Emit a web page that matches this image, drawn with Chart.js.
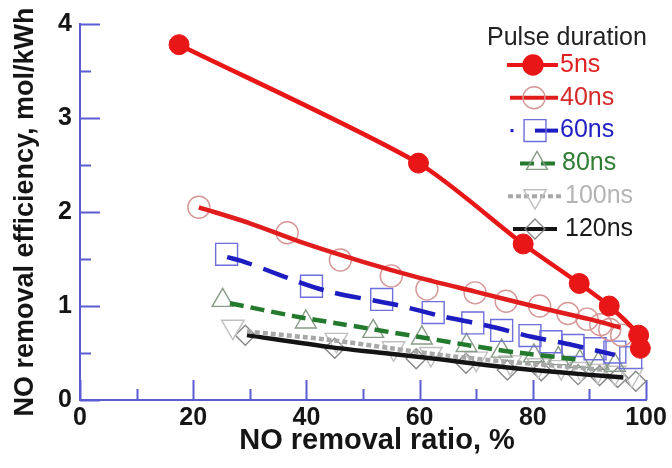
<!DOCTYPE html>
<html>
<head>
<meta charset="utf-8">
<script src="https://cdn.jsdelivr.net/npm/chart.js"></script>
<style>
  html, body { margin: 0; padding: 0; background: #fff; }
  canvas { display: block; }
</style>
</head>
<body>
<canvas id="chart" width="672" height="468"></canvas>
<script>
// values: NO removal ratio (%) -> efficiency (mol/kWh)
const seriesNames = ["5ns", "40ns", "60ns", "80ns", "100ns", "120ns"];

const x5 = [17.5, 59.8, 78.3, 88.2, 93.5, 98.7, 99.0];
const y5 = [3.78, 2.52, 1.66, 1.24, 1.00, 0.69, 0.55];

const x40 = [21, 36.6, 46, 55, 61.3, 69.8, 75.3, 81.2, 86.2, 89.6, 92, 93.6, 95.7];
const y40 = [2.05, 1.78, 1.49, 1.32, 1.18, 1.14, 1.05, 1.0, 0.92, 0.86, 0.80, 0.75, 0.69];
const fitX40 = [21, 30, 40, 50, 60, 70, 80, 90, 95.5];
const fitY40 = [2.05, 1.88, 1.66, 1.47, 1.30, 1.15, 1.00, 0.86, 0.77];

const x60 = [25.9, 40.9, 53.3, 62.4, 69.4, 74.5, 79.5, 83.2, 87.1, 91, 94.5, 97.3];
const y60 = [1.55, 1.21, 1.07, 0.93, 0.82, 0.74, 0.685, 0.62, 0.58, 0.545, 0.51, 0.45];
const fitX60 = [26, 29, 43, 56, 64, 72, 80, 87, 94.5];
const fitY60 = [1.52, 1.47, 1.17, 1.01, 0.89, 0.79, 0.67, 0.585, 0.48];

const x80 = [25.2, 39.9, 51.8, 60.4, 68.3, 74.5, 80.2, 84.5, 88.3, 91.6, 94.5];
const y80 = [1.06, 0.83, 0.73, 0.66, 0.58, 0.52, 0.47, 0.44, 0.41, 0.39, 0.37];
const fitX80 = [26.5, 38, 45, 60, 73, 78, 88];
const fitY80 = [1.03, 0.89, 0.82, 0.67, 0.54, 0.50, 0.43];

const x100 = [27, 45.3, 55.4, 62, 70, 76, 81, 85, 88.5, 91.5, 94.5, 97.5];
const y100 = [0.78, 0.64, 0.55, 0.49, 0.44, 0.40, 0.37, 0.35, 0.33, 0.31, 0.29, 0.27];
const fitX100 = [29.5, 44, 55, 65, 75, 85, 93];
const fitY100 = [0.73, 0.64, 0.55, 0.47, 0.41, 0.36, 0.32];

const x120 = [29.2, 45, 59.4, 68.2, 75.5, 81.5, 88, 91.8, 95, 98.2];
const y120 = [0.69, 0.55, 0.44, 0.39, 0.32, 0.31, 0.27, 0.26, 0.24, 0.20];
const fitX120 = [29.5, 44.5, 53.6, 64, 72, 80, 89.5, 96];
const fitY120 = [0.69, 0.56, 0.50, 0.43, 0.37, 0.32, 0.27, 0.24];

const xTickValues = [0, 20, 40, 60, 80, 100];
const xMinorTicks = [10, 30, 50, 70, 90];
const yTickValues = [0, 1, 2, 3, 4];
const yMinorTicks = [0.5, 1.5, 2.5, 3.5];

const xTitle = "NO removal ratio, %";
const yTitle = "NO removal efficiency, mol/kWh";

function pts(xs, ys) {
    return xs.map((x, i) => ({ x: x, y: ys[i] }));
}

const axisBlue = "rgb(92,92,210)";
const font = '"Liberation Sans", Arial, sans-serif';

// one style per series: line colour, dash, marker
const styles = [
    { line: "#e81616", dash: [], marker: "circle", r: 10, edge: "#e81616", fill: "#e81616", text: "#e02020" },
    { line: "#e01c1c", dash: [], marker: "circle", r: 11, edge: "rgb(214,150,150)", fill: "transparent", text: "#d42a2a" },
    { line: "#1c1cc0", dash: [26, 12], marker: "rect", r: 15.5, edge: "rgb(110,110,220)", fill: "transparent", text: "#2222c4" },
    { line: "#237a2c", dash: [14, 7], marker: "triangle", r: 12, edge: "rgb(135,155,135)", fill: "transparent", text: "#2d7d32" },
    { line: "#a8a8a8", dash: [5, 3], marker: "triangle", rot: 180, r: 13, edge: "rgb(192,192,192)", fill: "transparent", text: "#b4b4b4" },
    { line: "#141414", dash: [], marker: "rectRot", r: 10, edge: "rgb(135,135,135)", fill: "transparent", text: "#1a1a1a" }
];

const markerData = [pts(x5, y5), pts(x40, y40), pts(x60, y60), pts(x80, y80), pts(x100, y100), pts(x120, y120)];
const fitData = [null, pts(fitX40, fitY40), pts(fitX60, fitY60), pts(fitX80, fitY80), pts(fitX100, fitY100), pts(fitX120, fitY120)];

const datasets = [];
seriesNames.forEach((name, i) => {
    const s = styles[i];
    if (i === 0) {
        // 5ns: filled markers joined by the curve
        datasets.push({
            label: name, data: markerData[i], showLine: true, tension: 0.25,
            borderColor: s.line, borderWidth: 4.5, backgroundColor: s.fill,
            pointStyle: "circle", pointRadius: s.r, pointBackgroundColor: s.fill,
            pointBorderColor: s.fill, pointBorderWidth: 1, clip: false, order: 0
        });
        return;
    }
    datasets.push({
        label: name + " fit", data: fitData[i], showLine: true, tension: 0.3,
        borderColor: s.line, borderWidth: 4.5, borderDash: s.dash,
        pointRadius: 0, clip: false, order: 1
    });
    datasets.push({
        label: name, data: markerData[i], showLine: false,
        pointStyle: s.marker, pointRotation: s.rot || 0, pointRadius: s.r,
        pointBorderColor: s.edge, pointBackgroundColor: "rgba(0,0,0,0)",
        pointBorderWidth: 1.4, clip: false, order: 2
    });
});

function drawMarker(ctx, style, x, y, r, rot) {
    ctx.beginPath();
    if (style === "circle") {
        ctx.arc(x, y, r, 0, Math.PI * 2);
    } else if (style === "rect") {
        const s = r * Math.SQRT1_2;
        ctx.rect(x - s, y - s, 2 * s, 2 * s);
    } else if (style === "triangle") {
        const d = rot ? -1 : 1;
        ctx.moveTo(x, y - d * r);
        ctx.lineTo(x + r * 0.866, y + d * r / 2);
        ctx.lineTo(x - r * 0.866, y + d * r / 2);
        ctx.closePath();
    } else if (style === "rectRot") {
        ctx.moveTo(x, y - r);
        ctx.lineTo(x + r, y);
        ctx.lineTo(x, y + r);
        ctx.lineTo(x - r, y);
        ctx.closePath();
    }
}

// tick marks point into the plot, x title sits a bit right of centre
const inwardTicks = {
    id: "inwardTicks",
    beforeDatasetsDraw(chart) {
        const ctx = chart.ctx;
        const xs = chart.scales.x, ys = chart.scales.y;
        const area = chart.chartArea;
        ctx.save();
        ctx.strokeStyle = axisBlue;
        ctx.lineWidth = 2;
        ctx.beginPath();
        xTickValues.concat(xMinorTicks).forEach(v => {
            const len = xMinorTicks.includes(v) ? 11 : 20;
            const px = Math.round(xs.getPixelForValue(v)) + 0.5;
            ctx.moveTo(px, area.bottom);
            ctx.lineTo(px, area.bottom - len);
        });
        yTickValues.concat(yMinorTicks).forEach(v => {
            const len = yMinorTicks.includes(v) ? 11 : 20;
            const py = Math.round(ys.getPixelForValue(v)) + 0.5;
            ctx.moveTo(area.left, py);
            ctx.lineTo(area.left + len, py);
        });
        ctx.stroke();

        ctx.fillStyle = "#151515";
        ctx.font = "bold 29px " + font;
        ctx.textAlign = "center";
        ctx.textBaseline = "middle";
        ctx.fillText(xTitle, (area.left + area.right) / 2 + 14, 441);
        ctx.restore();
    }
};

// legend with title, sample line + marker, coloured labels
const legendRows = [
    { x0: 507, x1: 558, mx: 533, tx: 560 },
    { x0: 510, x1: 558, mx: 534, tx: 560 },
    { x0: 535, x1: 558, mx: 535, tx: 560, dot: 512 },
    { x0: 520, x1: 555, mx: 537, tx: 562 },
    { x0: 508, x1: 563, mx: 535, tx: 565 },
    { x0: 513, x1: 557, mx: 535, tx: 565 }
];

const pulseLegend = {
    id: "pulseLegend",
    afterDatasetsDraw(chart) {
        const ctx = chart.ctx;
        ctx.save();
        ctx.textAlign = "left";
        ctx.textBaseline = "middle";
        ctx.font = "25px " + font;
        ctx.fillStyle = "#222";
        ctx.fillText("Pulse duration", 487, 38);
        seriesNames.forEach((name, i) => {
            const s = styles[i], row = legendRows[i];
            const y = 65 + i * 32.8;
            ctx.strokeStyle = s.line;
            ctx.lineWidth = 4;
            ctx.setLineDash(i === 2 ? [] : s.dash);
            ctx.beginPath();
            ctx.moveTo(row.x0, y);
            ctx.lineTo(row.x1, y);
            ctx.stroke();
            ctx.setLineDash([]);
            if (row.dot) {
                ctx.fillStyle = s.line;
                ctx.fillRect(row.dot - 1.5, y - 1.5, 3, 3);
            }
            drawMarker(ctx, s.marker, row.mx, y, s.r, s.rot);
            ctx.lineWidth = 1.4;
            ctx.strokeStyle = s.edge;
            if (s.fill !== "transparent") {
                ctx.fillStyle = s.fill;
                ctx.fill();
            }
            ctx.stroke();
            ctx.fillStyle = s.text;
            ctx.fillText(name, row.tx, y);
        });
        ctx.restore();
    }
};

new Chart(document.getElementById("chart").getContext("2d"), {
    type: "scatter",
    data: { datasets: datasets },
    options: {
        responsive: false,
        animation: false,
        devicePixelRatio: 1,
        layout: { padding: { top: 24, right: 26, left: 0, bottom: 0 } },
        plugins: {
            legend: { display: false },
            tooltip: { enabled: false }
        },
        scales: {
            x: {
                type: "linear", min: 0, max: 100,
                afterFit(scale) { scale.height = 68; },
                afterBuildTicks(scale) { scale.ticks = xTickValues.map(v => ({ value: v })); },
                grid: { display: true, drawOnChartArea: false, drawTicks: false },
                border: { display: true, color: axisBlue, width: 2 },
                ticks: { padding: 3, color: "#151515", font: { family: font, size: 25, weight: "bold" } },
                title: { display: false }
            },
            y: {
                type: "linear", min: 0, max: 4,
                afterFit(scale) { scale.width = 80; },
                afterBuildTicks(scale) { scale.ticks = yTickValues.map(v => ({ value: v })); },
                grid: { display: true, drawOnChartArea: false, drawTicks: false },
                border: { display: true, color: axisBlue, width: 2 },
                ticks: { padding: 8, color: "#151515", font: { family: font, size: 25, weight: "bold" } },
                title: {
                    display: true, text: yTitle, color: "#151515",
                    padding: { top: 9, bottom: 0 },
                    font: { family: font, size: 27, weight: "bold" }
                }
            }
        }
    },
    plugins: [inwardTicks, pulseLegend]
});
</script>
</body>
</html>
